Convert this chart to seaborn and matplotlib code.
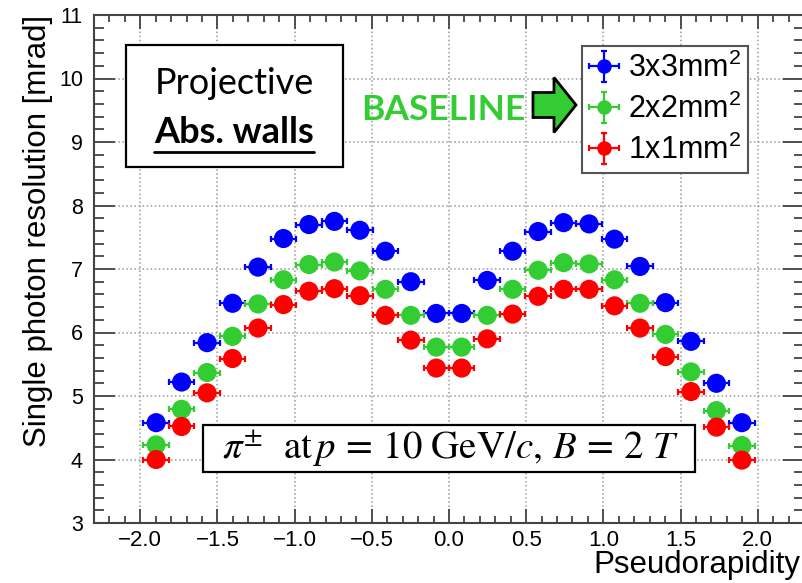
#!/usr/bin/env python3
"""
Single photon resolution vs pseudorapidity for three pixel sizes
(projective absorber walls, pi+- at 10 GeV/c, B = 2 T).
"""

import numpy as np
import pandas as pd
import matplotlib
matplotlib.use("Agg")
import matplotlib.pyplot as plt
import matplotlib.patches as mpatches
from matplotlib.lines import Line2D
from matplotlib.ticker import MultipleLocator, FuncFormatter
import seaborn as sns

# ---- data ----
eta = [-1.8975, -1.7325, -1.5675, -1.4025, -1.2375, -1.0725, -0.9075, -0.7425,
       -0.5775, -0.4125, -0.2475, -0.0825, 0.0825, 0.2475, 0.4125, 0.5775,
       0.7425, 0.9075, 1.0725, 1.2375, 1.4025, 1.5675, 1.7325, 1.8975]
eta_half_bin = 0.0825
res_err = 0.03

res_3x3 = [4.58, 5.22, 5.84, 6.46, 7.03, 7.48, 7.70, 7.75, 7.61, 7.28, 6.80, 6.30,
           6.30, 6.82, 7.28, 7.59, 7.73, 7.71, 7.47, 7.04, 6.47, 5.86, 5.20, 4.58]
res_2x2 = [4.23, 4.79, 5.37, 5.94, 6.45, 6.83, 7.07, 7.11, 6.97, 6.68, 6.27, 5.77,
           5.77, 6.27, 6.68, 6.98, 7.10, 7.08, 6.83, 6.46, 5.97, 5.38, 4.77, 4.22]
res_1x1 = [4.00, 4.52, 5.05, 5.59, 6.07, 6.44, 6.65, 6.69, 6.58, 6.27, 5.88, 5.44,
           5.44, 5.90, 6.29, 6.57, 6.68, 6.68, 6.42, 6.07, 5.62, 5.07, 4.51, 3.99]

labels = ["3x3mm$^2$", "2x2mm$^2$", "1x1mm$^2$"]
colors = ["#0000FF", "#33CC33", "#FF0000"]

W, H = 802, 583


def fx(px):
    return px / W


def fy(py):
    return 1 - py / H


def main():
    sns.set_theme(style="ticks")
    plt.rcParams["font.family"] = ["Liberation Sans", "DejaVu Sans"]
    plt.rcParams["mathtext.fontset"] = "custom"
    plt.rcParams["mathtext.rm"] = "Liberation Sans"
    plt.rcParams["mathtext.it"] = "Liberation Sans:italic"
    for key in ["text.color", "axes.labelcolor", "xtick.labelcolor", "ytick.labelcolor"]:
        plt.rcParams[key] = "black"

    fig = plt.figure(figsize=(W / 100, H / 100), dpi=100)
    ax = fig.add_axes([fx(94), fy(523), fx(804 - 94), 508 / H])

    df = pd.DataFrame({
        "eta": eta * 3,
        "res": res_3x3 + res_2x2 + res_1x1,
        "pixel": [labels[0]] * len(eta) + [labels[1]] * len(eta) + [labels[2]] * len(eta),
    })

    handles = []
    for lab, col, vals in zip(labels, colors, [res_3x3, res_2x2, res_1x1]):
        eb = ax.errorbar(eta, vals, xerr=eta_half_bin, yerr=res_err, fmt="none",
                         ecolor=col, elinewidth=1.6, capsize=2.5, capthick=1.6, zorder=2)
        mk = Line2D([], [], ls="none", marker="o", color=col, markersize=13.5)
        handles.append((eb, mk))

    sns.scatterplot(data=df, x="eta", y="res", hue="pixel", palette=colors,
                    s=190, edgecolor="none", linewidth=0, legend=False, ax=ax, zorder=3)

    ax.set_xlim(-2.3, 2.3)
    ax.set_ylim(3, 11)
    ax.xaxis.set_major_locator(MultipleLocator(0.5))
    ax.xaxis.set_minor_locator(MultipleLocator(0.1))
    ax.yaxis.set_major_locator(MultipleLocator(1))
    ax.yaxis.set_minor_locator(MultipleLocator(0.2))
    ax.xaxis.set_major_formatter(FuncFormatter(lambda v, p: f"{v:.1f}".replace("-", "\u2212")))

    ax.grid(True, which="major", ls=":", color="#999999", lw=1.1)
    ax.set_axisbelow(True)
    ax.tick_params(which="both", direction="in", top=True, right=True,
                   color="#444444", width=1.3)
    ax.tick_params(axis="y", which="major", length=15, pad=8, labelsize=15.5)
    ax.tick_params(axis="y", which="minor", length=7.5)
    ax.tick_params(axis="x", which="major", length=10, pad=5, labelsize=16)
    ax.tick_params(axis="x", which="minor", length=5)
    for sp in ax.spines.values():
        sp.set_color("#444444")
        sp.set_linewidth(1.5)

    ax.set_xlabel("Pseudorapidity", fontsize=22.5, ha="right", va="center")
    ax.xaxis.set_label_coords((800 - 94) / 710, -(565 - 523) / 508)
    ax.set_ylabel("Single photon resolution [mrad]", fontsize=22.5, loc="top", labelpad=4)

    leg = ax.legend(handles=handles, labels=labels, loc="upper left",
                    bbox_to_anchor=(fx(582), fy(46)), bbox_transform=fig.transFigure,
                    borderaxespad=0, fancybox=False, framealpha=1, edgecolor="#555555",
                    fontsize=22, handlelength=1.0, handletextpad=0.3, labelspacing=0.32,
                    borderpad=0.22, markerscale=0.7)
    leg.get_frame().set_linewidth(1.5)

    # "Projective / Abs. walls" box
    fig.patches.append(mpatches.Rectangle((fx(126), fy(167)), fx(343 - 126), (167 - 45) / H,
                                          transform=fig.transFigure, facecolor="white",
                                          edgecolor="black", lw=1.6, zorder=4))
    fig.text(fx(234), fy(94), "Projective", fontsize=26, family=["Lato", "DejaVu Sans"],
             ha="center", va="baseline", zorder=5)
    t = fig.text(fx(234), fy(143), "Abs. walls", fontsize=26, family=["Lato", "DejaVu Sans"],
                 fontweight="bold", ha="center", va="baseline", zorder=5)
    fig.canvas.draw()
    bb = t.get_window_extent().transformed(fig.transFigure.inverted())
    fig.add_artist(Line2D([bb.x0, bb.x1], [fy(152), fy(152)], transform=fig.transFigure,
                          color="black", lw=2, zorder=5))

    # BASELINE arrow
    fig.text(fx(361), fy(120), "BASELINE", fontsize=25.5, family=["Lato", "DejaVu Sans"],
             fontweight="bold", color="#33CC33", ha="left", va="baseline", zorder=5)
    fig.patches.append(mpatches.FancyArrow(fx(533), fy(105), fx(43), 0, width=25 / H,
                                           head_width=55 / H, head_length=fx(22),
                                           length_includes_head=True, transform=fig.transFigure,
                                           facecolor="#33CC33", edgecolor="black", lw=2, zorder=5))

    # kinematics box
    fig.patches.append(mpatches.Rectangle((fx(203), fy(472)), fx(695 - 203), (472 - 425) / H,
                                          transform=fig.transFigure, facecolor="white",
                                          edgecolor="black", lw=1.6, zorder=4))
    fig.text(fx(450), fy(449),
             r"$\pi^{\pm}\ \ \mathrm{at}\,p\,=\,10\ \mathrm{GeV}/c,\,B\,=\,2\ T$",
             fontsize=28, math_fontfamily="stix", ha="center", va="center", zorder=5)

    fig.savefig("out.png", dpi=100)
    plt.close(fig)


if __name__ == "__main__":
    main()
